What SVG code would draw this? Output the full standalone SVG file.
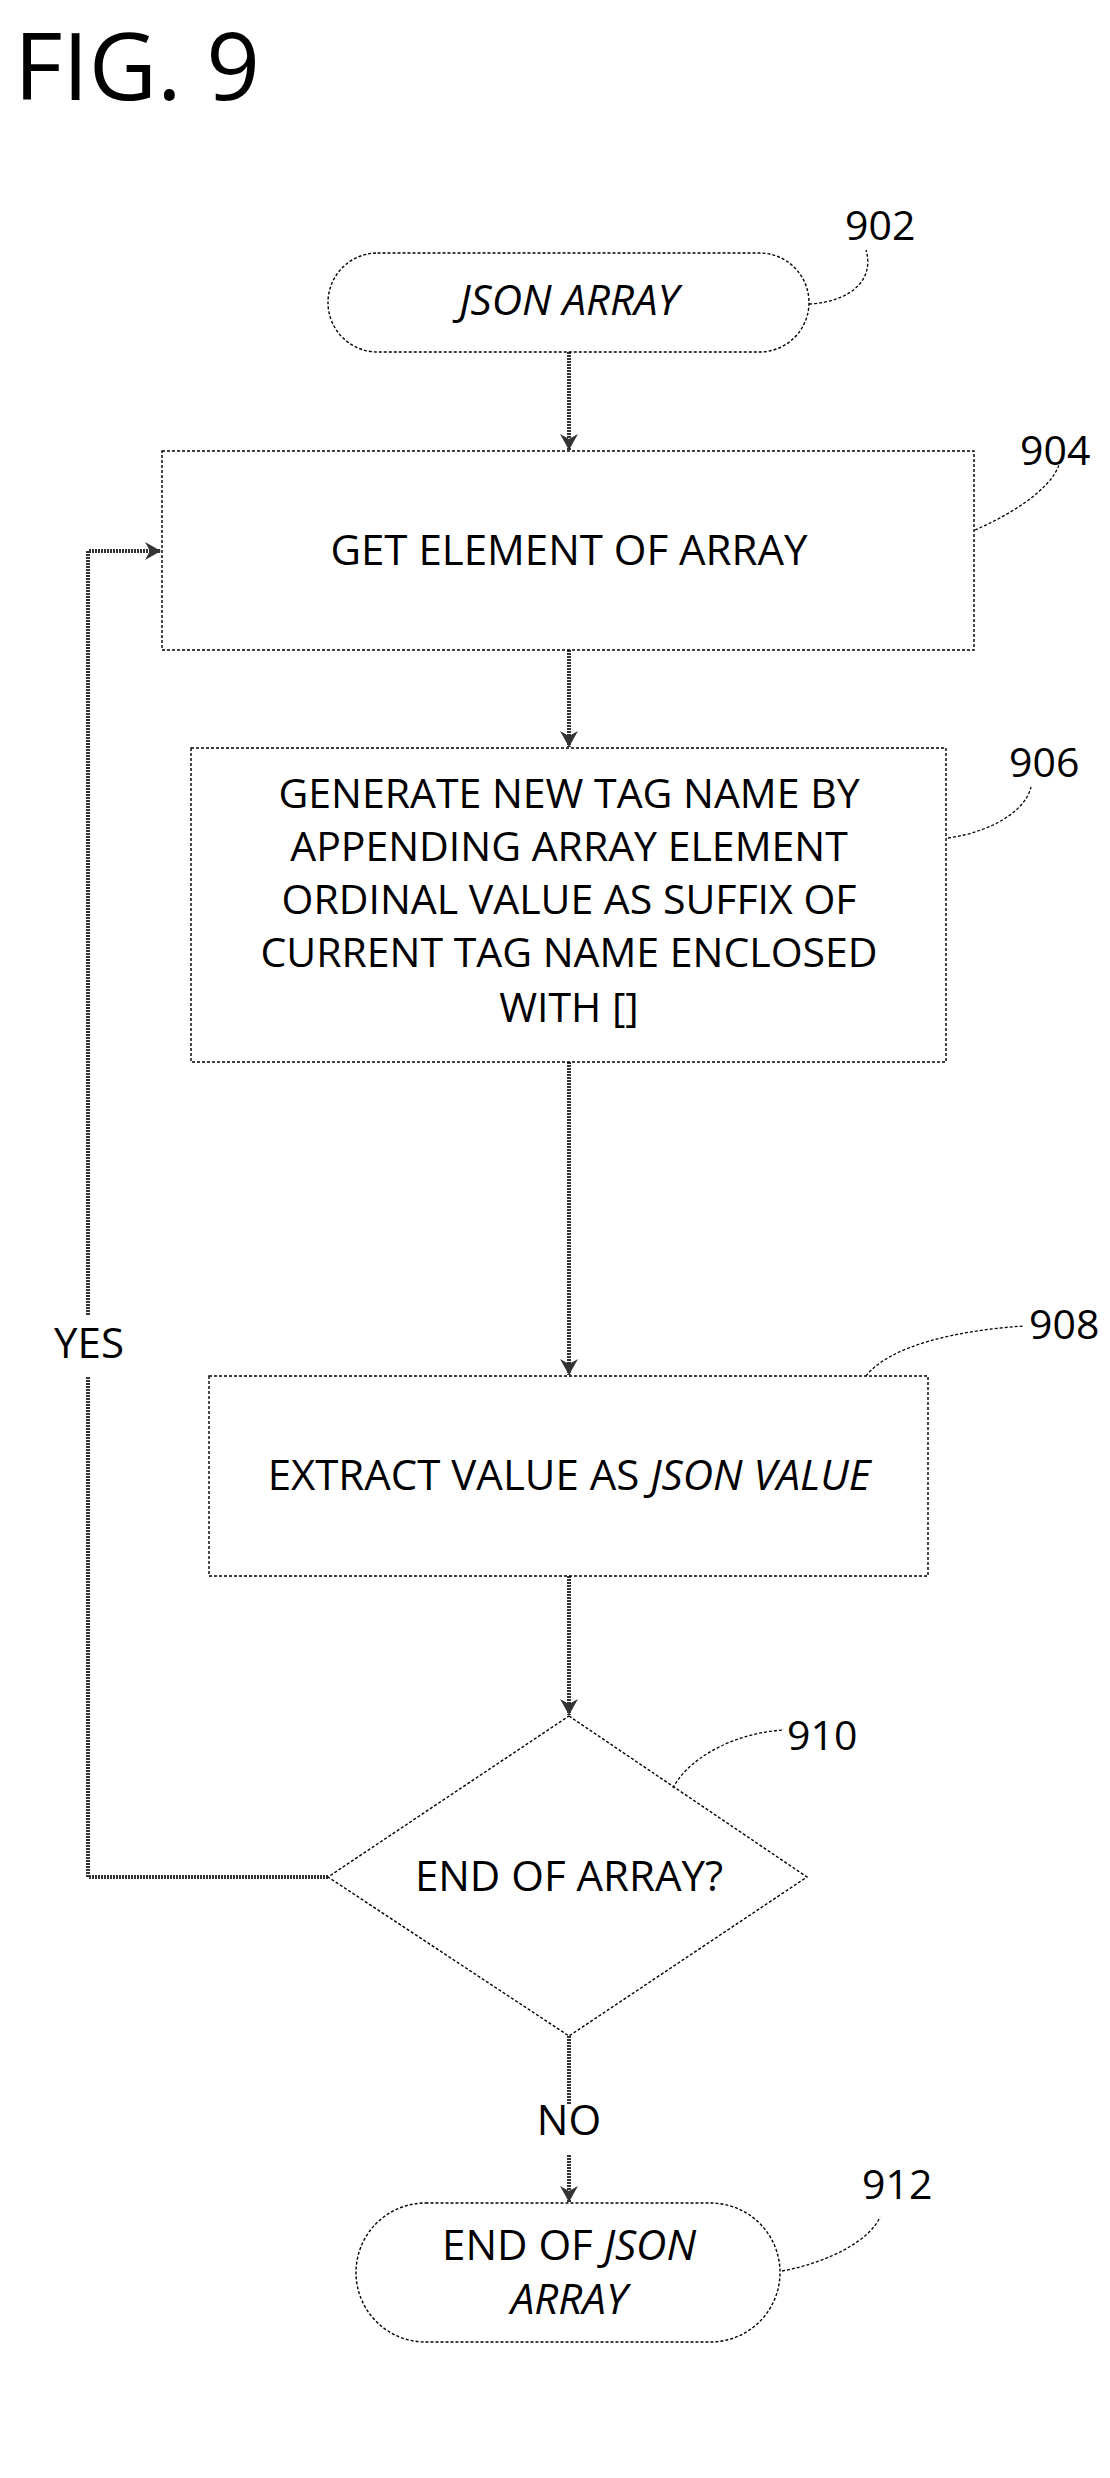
<svg xmlns="http://www.w3.org/2000/svg" width="1110" height="2478" viewBox="0 0 1110 2478">
<style>
text{font-family:"Open Sans","Liberation Sans",sans-serif;fill:#000}
.n{fill:#fff;stroke:#000;stroke-width:1.4;stroke-dasharray:3 2}
.c{fill:none;stroke:#333;stroke-width:4;stroke-dasharray:2 1}
.l{fill:none;stroke:#000;stroke-width:1.3;stroke-dasharray:3 2}
.t{font-size:42px;text-anchor:middle}
.s{font-size:41px;text-anchor:middle}
.r{font-size:41px}
</style>
<defs>
<marker id="a" markerWidth="18" markerHeight="18" refX="16" refY="9" orient="auto" markerUnits="userSpaceOnUse">
<path d="M0,0 L16,9 L0,18 L5,9 Z" fill="#333"/>
</marker>
</defs>
<rect width="1110" height="2478" fill="#fff"/>
<text x="14" y="100" style="font-size:94px">FIG. 9</text>
<g id="connectors">
<line class="c" x1="569" y1="352" x2="569" y2="450" marker-end="url(#a)"/>
<line class="c" x1="569" y1="650" x2="569" y2="747" marker-end="url(#a)"/>
<line class="c" x1="569" y1="1062" x2="569" y2="1375" marker-end="url(#a)"/>
<line class="c" x1="569" y1="1576" x2="569" y2="1715" marker-end="url(#a)"/>
<polyline class="c" points="328,1877 88,1877 88,1376"/>
<polyline class="c" points="88,1315 88,551 161,551" marker-end="url(#a)"/>
<line class="c" x1="569" y1="2036" x2="569" y2="2105"/>
<line class="c" x1="569" y1="2155" x2="569" y2="2202" marker-end="url(#a)"/>
<text x="89" y="1358" class="t">YES</text>
<text x="569" y="2135" class="t">NO</text>
</g>
<g id="n902">
<rect class="n" x="328" y="253" width="481" height="99" rx="49.5"/>
<text x="569" y="315" class="t" font-style="italic">JSON ARRAY</text>
<path class="l" d="M809,304 C850,302 875,280 866,250"/>
<text x="845" y="240" class="r">902</text>
</g>
<g id="n904">
<rect class="n" x="162" y="451" width="812" height="199"/>
<text x="569" y="565" class="t">GET ELEMENT OF ARRAY</text>
<path class="l" d="M975,530 C1010,515 1050,490 1059,465"/>
<text x="1020" y="465" class="r">904</text>
</g>
<g id="n906">
<rect class="n" x="191" y="748" width="755" height="314"/>
<text class="s"><tspan x="569" y="808">GENERATE NEW TAG NAME BY</tspan><tspan x="569" y="861">APPENDING ARRAY ELEMENT</tspan><tspan x="569" y="914">ORDINAL VALUE AS SUFFIX OF</tspan><tspan x="569" y="967">CURRENT TAG NAME ENCLOSED</tspan><tspan x="569" y="1022">WITH []</tspan></text>
<path class="l" d="M948,838 C990,832 1025,812 1031,787"/>
<text x="1009" y="777" class="r">906</text>
</g>
<g id="n908">
<rect class="n" x="209" y="1376" width="719" height="200"/>
<text x="569" y="1490" class="t">EXTRACT VALUE AS <tspan font-style="italic">JSON VALUE</tspan></text>
<path class="l" d="M866,1376 C890,1345 960,1330 1024,1326"/>
<text x="1029" y="1339" class="r">908</text>
</g>
<g id="n910">
<polygon class="n" points="569,1716 807,1877 569,2036 328,1877"/>
<text x="569" y="1891" class="t">END OF ARRAY?</text>
<path class="l" d="M673,1788 C690,1755 740,1732 784,1730"/>
<text x="787" y="1750" class="r">910</text>
</g>
<g id="n912">
<rect class="n" x="356" y="2203" width="424" height="139" rx="69.5"/>
<text class="t"><tspan x="569" y="2260">END OF <tspan font-style="italic">JSON</tspan></tspan><tspan x="569" y="2314" font-style="italic">ARRAY</tspan></text>
<path class="l" d="M782,2271 C830,2262 870,2240 880,2217"/>
<text x="862" y="2199" class="r">912</text>
</g>
</svg>
